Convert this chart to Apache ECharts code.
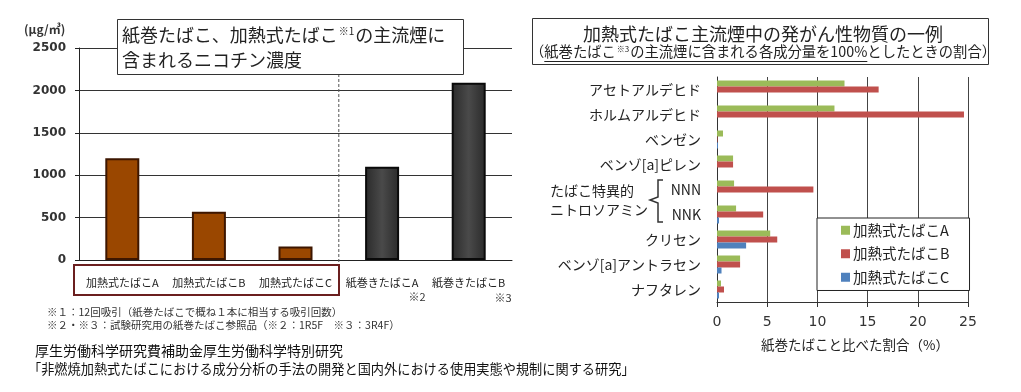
<!DOCTYPE html>
<html>
<head>
<meta charset="utf-8">
<script src="https://cdn.jsdelivr.net/npm/echarts@6/dist/echarts.min.js"></script>
<style>
html,body{margin:0;padding:0;background:#fff;}
#c{width:1021px;height:392px;}
</style>
</head>
<body>
<div id="c"></div>
<script>
// ---- data ----
const nicotineCategories = ['加熱式たばこA', '加熱式たばこB', '加熱式たばこC', '紙巻きたばこA', '紙巻きたばこB'];
const nicotineValues = [1200, 570, 160, 1100, 2090];
const nicotineTicks = { min: 0, max: 2500, interval: 500 };

const carcinogenCategories = ['アセトアルデヒド', 'ホルムアルデヒド', 'ベンゼン', 'ベンゾ[a]ピレン', 'NNN', 'NNK', 'クリセン', 'ベンゾ[a]アントラセン', 'ナフタレン'];
const seriesNames = ['加熱式たばこA', '加熱式たばこB', '加熱式たばこC'];
const heatedA = [12.7, 11.7, 0.6, 1.6, 1.7, 1.9, 5.3, 2.3, 0.4];
const heatedB = [16.1, 24.6, 0.05, 1.6, 9.6, 4.6, 6.0, 2.3, 0.7];
const heatedC = [0, 0, 0.1, 0, 0, 0.2, 2.9, 0.45, 0.2];
const ratioTicks = { min: 0, max: 25, interval: 5 };

// ---- styles ----
const JP = '"Noto Sans CJK JP", "Noto Sans", sans-serif';
const NUM = '"DejaVu Sans", Verdana, sans-serif';
const heatedStyle = { color: '#9a4700', borderColor: '#3d1600', borderWidth: 2 };
const paperStyle = {
  color: { type: 'linear', x: 0, y: 0, x2: 1, y2: 0, colorStops: [
    { offset: 0, color: '#2a2a2a' }, { offset: 0.5, color: '#4a4a4a' }, { offset: 1, color: '#2a2a2a' }] },
  borderColor: '#0a0a0a', borderWidth: 2
};
const seriesColors = ['#9bbb59', '#c0504d', '#4f81bd'];

const chart = echarts.init(document.getElementById('c'), null, { renderer: 'canvas' });

const leftGrid = { left: 79, top: 48, width: 433, height: 212 };
const rightGrid = { left: 717, top: 77, width: 251, height: 225 };
const dividerX = leftGrid.left + leftGrid.width * 3 / nicotineCategories.length;

// subtitle underline measurement
const subA = '（紙巻たばこ', subS = '※3', subB1 = 'の主流煙に含まれる各成分量を100%', subB2 = 'としたときの割合）';
const subSize = 14.3, supSize = 8, subCX = 763;
const mctx = document.createElement('canvas').getContext('2d');
function tw(t, size) { mctx.font = size + 'px ' + JP; return mctx.measureText(t).width; }
const supW = tw(subS, supSize) + 2;
const subW = tw(subA, subSize) + supW + tw(subB1 + subB2, subSize);
const subStart = subCX - subW / 2;
const ulX1 = subStart + tw('（', subSize);
const ulX2 = subStart + tw(subA, subSize) + supW + tw(subB1, subSize);

const option = {
  backgroundColor: '#fff',
  animation: false,
  textStyle: { fontFamily: JP },
  grid: [leftGrid, rightGrid],
  legend: {
    data: seriesNames,
    orient: 'vertical',
    left: 817, top: 218,
    padding: [5, 20, 6, 24],
    itemWidth: 9, itemHeight: 9, itemGap: 9,
    icon: 'rect',
    backgroundColor: '#fff',
    borderColor: '#222', borderWidth: 1,
    textStyle: { fontSize: 14.5, color: '#222', fontFamily: JP, padding: [0, 0, 0, -2] },
    z: 20
  },
  xAxis: [
    {
      type: 'category', gridIndex: 0, data: nicotineCategories,
      axisLine: { lineStyle: { color: '#222', width: 1 } },
      axisTick: { length: 4, lineStyle: { color: '#222' } },
      axisLabel: { interval: 0, fontSize: 11, color: '#222', margin: 17, fontFamily: JP }
    },
    {
      type: 'value', gridIndex: 1, min: ratioTicks.min, max: ratioTicks.max, interval: ratioTicks.interval,
      axisLine: { show: true, lineStyle: { color: '#333' } },
      axisTick: { show: true, length: 5, lineStyle: { color: '#333' } },
      splitLine: { show: true, lineStyle: { color: '#444', width: 1 } },
      axisLabel: { fontSize: 14, color: '#333', margin: 13, fontFamily: NUM }
    }
  ],
  yAxis: [
    {
      type: 'value', gridIndex: 0, min: nicotineTicks.min, max: nicotineTicks.max, interval: nicotineTicks.interval,
      axisLine: { show: true, lineStyle: { color: '#222' } },
      axisTick: { show: true, length: 4, lineStyle: { color: '#222' } },
      splitLine: { show: true, lineStyle: { color: '#333', width: 1 } },
      axisLabel: { fontSize: 12, fontWeight: 'bold', color: '#333', margin: 13, fontFamily: NUM, formatter: v => String(v) }
    },
    {
      type: 'category', gridIndex: 1, data: carcinogenCategories, inverse: true,
      axisLine: { lineStyle: { color: '#333' } },
      axisTick: { length: 6, lineStyle: { color: '#333' } },
      axisLabel: { interval: 0, fontSize: 14, color: '#222', margin: 16, fontFamily: JP }
    }
  ],
  series: [
    {
      name: 'ニコチン濃度', type: 'bar', xAxisIndex: 0, yAxisIndex: 0, barWidth: 34,
      data: nicotineValues.map((v, i) => ({ value: v, itemStyle: i < 3 ? heatedStyle : paperStyle })),
      z: 3
    },
    {
      name: seriesNames[0], type: 'bar', xAxisIndex: 1, yAxisIndex: 1, barWidth: 6, barGap: '0%',
      itemStyle: { color: seriesColors[0] }, data: heatedA
    },
    {
      name: seriesNames[1], type: 'bar', xAxisIndex: 1, yAxisIndex: 1, barWidth: 6, barGap: '0%',
      itemStyle: { color: seriesColors[1] }, data: heatedB
    },
    {
      name: seriesNames[2], type: 'bar', xAxisIndex: 1, yAxisIndex: 1, barWidth: 6, barGap: '0%',
      itemStyle: { color: seriesColors[2] }, data: heatedC
    }
  ],
  graphic: [
    // unit
    { type: 'text', x: 24, y: 29, style: { text: '(μg/㎥)', fontSize: 12, fontWeight: 'bold', fill: '#333', fontFamily: JP, verticalAlign: 'middle' } },
    // divider
    { type: 'line', shape: { x1: dividerX, y1: 74, x2: dividerX, y2: 265 }, style: { stroke: '#555', lineWidth: 1, lineDash: [3, 2] }, z: 5 },
    // left title box
    { type: 'rect', shape: { x: 117.5, y: 19.5, width: 346, height: 55 }, style: { fill: '#fff', stroke: '#333', lineWidth: 1 }, z: 10 },
    { type: 'text', x: 122, y: 35, z: 11, style: {
      text: '{a|紙巻たばこ、加熱式たばこ}{s|※1}{a|の主流煙に}', verticalAlign: 'middle', fill: '#222',
      rich: { a: { fontSize: 18, fontFamily: JP, fill: '#222' }, s: { fontSize: 10, fontFamily: JP, fill: '#222', verticalAlign: 'top', padding: [0, 1, 8, 1] } } } },
    { type: 'text', x: 122, y: 60, z: 11, style: { text: '含まれるニコチン濃度', fontSize: 18, fontFamily: JP, fill: '#222', verticalAlign: 'middle' } },
    // category label box
    { type: 'rect', shape: { x: 74, y: 265, width: 265, height: 30 }, style: { fill: 'none', stroke: '#6b1f1f', lineWidth: 2 }, z: 10 },
    { type: 'text', x: 417, y: 297, style: { text: '※2', fontSize: 11, fontFamily: JP, fill: '#333', align: 'center', verticalAlign: 'middle' } },
    { type: 'text', x: 503, y: 298, style: { text: '※3', fontSize: 11, fontFamily: JP, fill: '#333', align: 'center', verticalAlign: 'middle' } },
    // footnotes
    { type: 'text', x: 47, y: 312, style: { text: '※１：12回吸引（紙巻たばこで概ね１本に相当する吸引回数）', fontSize: 10.5, fontFamily: JP, fill: '#333', verticalAlign: 'middle' } },
    { type: 'text', x: 47, y: 325, style: { text: '※２・※３：試験研究用の紙巻たばこ参照品（※２：1R5F　※３：3R4F）', fontSize: 10.5, fontFamily: JP, fill: '#333', verticalAlign: 'middle' } },
    // source
    { type: 'text', x: 35, y: 351, style: { text: '厚生労働科学研究費補助金厚生労働科学特別研究', fontSize: 14, fontFamily: JP, fill: '#111', verticalAlign: 'middle' } },
    { type: 'text', x: 28, y: 369, style: { text: '「非燃焼加熱式たばこにおける成分分析の手法の開発と国内外における使用実態や規制に関する研究」', fontSize: 13.2, fontFamily: JP, fill: '#111', verticalAlign: 'middle' } },
    // right title box
    { type: 'rect', shape: { x: 532.5, y: 18.5, width: 456, height: 46 }, style: { fill: '#fff', stroke: '#333', lineWidth: 1 }, z: 10 },
    { type: 'text', x: 763, y: 34, z: 11, style: { text: '加熱式たばこ主流煙中の発がん性物質の一例', fontSize: 18, fontFamily: JP, fill: '#222', align: 'center', verticalAlign: 'middle' } },
    { type: 'text', x: subStart, y: 52, z: 11, style: {
      text: '{a|' + subA + '}{s|' + subS + '}{a|' + subB1 + subB2 + '}', align: 'left', verticalAlign: 'middle', fill: '#222',
      rich: { a: { fontSize: subSize, fontFamily: JP, fill: '#222' }, s: { fontSize: supSize, fontFamily: JP, fill: '#222', verticalAlign: 'top', padding: [0, 1, 6, 1] } } } },
    { type: 'line', z: 11, shape: { x1: ulX1, y1: 61.5, x2: ulX2, y2: 61.5 }, style: { stroke: '#222', lineWidth: 1 } },
    // group brace + label
    { type: 'polyline', shape: { points: [[663, 180], [658, 180], [658, 197], [650, 200], [658, 203], [658, 222], [663, 222]] }, style: { stroke: '#333', lineWidth: 1.5, fill: 'none' } },
    { type: 'text', x: 550, y: 191, style: { text: 'たばこ特異的', fontSize: 14, fontFamily: JP, fill: '#222', verticalAlign: 'middle' } },
    { type: 'text', x: 550, y: 210, style: { text: 'ニトロソアミン', fontSize: 14, fontFamily: JP, fill: '#222', verticalAlign: 'middle' } },
    // x axis name
    { type: 'text', x: 855, y: 345, style: { text: '紙巻たばこと比べた割合（%）', fontSize: 13.5, fontFamily: JP, fill: '#222', align: 'center', verticalAlign: 'middle' } }
  ]
};
chart.setOption(option);
</script>
</body>
</html>
